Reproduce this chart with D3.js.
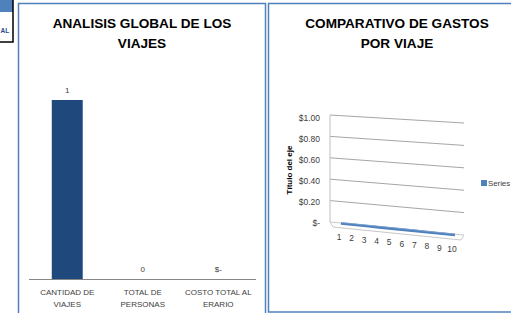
<!DOCTYPE html>
<html>
<head>
<meta charset="utf-8">
<script src="https://cdn.jsdelivr.net/npm/d3@7"></script>
<style>
  html, body { margin: 0; padding: 0; background: #fff; overflow: hidden; }
  svg { display: block; }
</style>
</head>
<body>
<svg id="chart" width="511" height="313"></svg>
<script>
// ---- Data: chart 1 ----
const barCategories = [["CANTIDAD DE", "VIAJES"], ["TOTAL DE", "PERSONAS"], ["COSTO TOTAL AL", "ERARIO"]];
const barValues = [1, 0, 0];
const barLabels = ["1", "0", "$-"];

// ---- Data: chart 2 ----
const lineCategories = [1, 2, 3, 4, 5, 6, 7, 8, 9, 10];
const lineValues = [0, 0, 0, 0, 0, 0, 0, 0, 0, 0];
const yTicks = [0, 0.2, 0.4, 0.6, 0.8, 1.0];
const yTickLabels = ["$-", "$0.20", "$0.40", "$0.60", "$0.80", "$1.00"];
const seriesName = "Series";

const svg = d3.select("#chart");
const FONT = "'Liberation Sans', Arial, sans-serif";

// ---- Left clipped table fragment ----
svg.append("rect").attr("x", -2).attr("y", -2).attr("width", 15).attr("height", 14).attr("fill", "#4f81bd");
svg.append("path").attr("d", "M13,0 V42 H-2").attr("fill", "none").attr("stroke", "#000").attr("stroke-width", 1.5);
svg.append("text").attr("x", 0.5).attr("y", 33)
  .attr("font-family", FONT).attr("font-size", 6.5).attr("font-weight", "bold").attr("fill", "#1f4e8c").text("AL");

// ---- Panel borders ----
svg.append("rect").attr("x", 18.5).attr("y", 3.5).attr("width", 247).attr("height", 330)
  .attr("fill", "#fff").attr("stroke", "#4f81bd").attr("stroke-width", 1.5);
svg.append("rect").attr("x", 268.5).attr("y", 3.5).attr("width", 260).attr("height", 308.5)
  .attr("fill", "#fff").attr("stroke", "#4f81bd").attr("stroke-width", 1.5);

// ---- Chart 1: bar chart ----
const g1 = svg.append("g");
g1.append("text").attr("text-anchor", "middle")
  .attr("font-family", FONT).attr("font-size", 13.6).attr("font-weight", "bold").attr("fill", "#000")
  .selectAll("tspan").data(["ANALISIS GLOBAL DE LOS", "VIAJES"]).join("tspan")
  .attr("x", 142).attr("y", (d, i) => 28 + i * 20).text(d => d);

const x1 = d3.scaleBand().domain(d3.range(barValues.length)).range([29.5, 256]).paddingInner(0.59).paddingOuter(0.295);
const y1 = d3.scaleLinear().domain([0, 1]).range([279, 100]);

g1.selectAll("rect.bar").data(barValues).join("rect").attr("class", "bar")
  .attr("x", (d, i) => x1(i)).attr("width", x1.bandwidth())
  .attr("y", d => y1(d)).attr("height", d => y1(0) - y1(d)).attr("fill", "#1f497d");

g1.append("line").attr("x1", 29).attr("x2", 256).attr("y1", y1(0) + 0.5).attr("y2", y1(0) + 0.5)
  .attr("stroke", "#868686").attr("stroke-width", 1);

g1.selectAll("text.vlab").data(barValues).join("text").attr("class", "vlab")
  .attr("x", (d, i) => x1(i) + x1.bandwidth() / 2).attr("y", d => y1(d) - 7)
  .attr("text-anchor", "middle").attr("font-family", FONT).attr("font-size", 8).attr("fill", "#404040")
  .text((d, i) => barLabels[i]);

g1.selectAll("text.clab").data(barCategories).join("text").attr("class", "clab")
  .attr("text-anchor", "middle").attr("font-family", FONT).attr("font-size", 8).attr("fill", "#404040")
  .each(function (d, i) {
    const cx = x1(i) + x1.bandwidth() / 2;
    d3.select(this).selectAll("tspan").data(d).join("tspan")
      .attr("x", cx).attr("y", (t, j) => 295 + j * 12).text(t => t);
  });

// ---- Chart 2: 3D line chart ----
const g2 = svg.append("g");
g2.append("text").attr("text-anchor", "middle")
  .attr("font-family", FONT).attr("font-size", 13.6).attr("font-weight", "bold").attr("fill", "#000")
  .selectAll("tspan").data(["COMPARATIVO DE GASTOS", "POR VIAJE"]).join("tspan")
  .attr("x", 397).attr("y", (d, i) => 28 + i * 20).text(d => d);

const wallLeftX = 330, wallRightX = 464;
const yBackLeft = d3.scaleLinear().domain([0, 1]).range([222, 115]);
const yBackRight = d3.scaleLinear().domain([0, 1]).range([235, 123]);
const yLabel = d3.scaleLinear().domain([0, 1]).range([225.5, 120.5]);

// floor
const floorPts = [[wallLeftX, yBackLeft(0)], [wallRightX, yBackRight(0)], [461, 240], [333, 227]];
g2.append("path").attr("d", "M" + floorPts.map(p => p.join(",")).join("L") + "Z")
  .attr("fill", "#fff").attr("stroke", "#c8c8c8").attr("stroke-width", 1);

// gridlines
g2.selectAll("line.grid").data(yTicks.filter(t => t > 0)).join("line").attr("class", "grid")
  .attr("x1", wallLeftX).attr("x2", wallRightX)
  .attr("y1", d => yBackLeft(d)).attr("y2", d => yBackRight(d))
  .attr("stroke", "#a6a6a6").attr("stroke-width", 1);

// wall edge
g2.append("line").attr("x1", wallLeftX).attr("x2", wallLeftX)
  .attr("y1", yBackLeft(1)).attr("y2", yBackLeft(0))
  .attr("stroke", "#c0c0c0").attr("stroke-width", 1);

// tick labels
g2.selectAll("text.ytick").data(yTicks).join("text").attr("class", "ytick")
  .attr("x", 320).attr("y", d => yLabel(d)).attr("text-anchor", "end")
  .attr("font-family", FONT).attr("font-size", 8.5).attr("fill", "#404040")
  .text((d, i) => yTickLabels[i]);

// axis title
g2.append("text").attr("transform", "translate(292,170) rotate(-90)").attr("text-anchor", "middle")
  .attr("font-family", FONT).attr("font-size", 8).attr("font-weight", "bold").attr("fill", "#000")
  .text("Título del eje");

// series ribbon
const xSer = d3.scalePoint().domain(lineCategories).range([341, 455]);
const ySerBase = d3.scalePoint().domain(lineCategories).range([223.5, 235]);
const vScale = d3.scaleLinear().domain([0, 1]).range([0, -107]);
const line = d3.line().x((d, i) => xSer(lineCategories[i])).y((d, i) => ySerBase(lineCategories[i]) + vScale(d));
g2.append("path").datum(lineValues).attr("d", line)
  .attr("fill", "none").attr("stroke", "#4f81bd").attr("stroke-width", 2.6).attr("stroke-linecap", "butt");
g2.append("path").datum(lineValues).attr("d", line).attr("transform", "translate(0,-1)")
  .attr("fill", "none").attr("stroke", "#7fa3d3").attr("stroke-width", 0.8);

// x labels
const xLab = d3.scalePoint().domain(lineCategories).range([339, 452]);
const yLab = d3.scalePoint().domain(lineCategories).range([240, 252]);
g2.selectAll("text.xlab").data(lineCategories).join("text").attr("class", "xlab")
  .attr("x", d => xLab(d)).attr("y", d => yLab(d)).attr("text-anchor", "middle")
  .attr("font-family", FONT).attr("font-size", 8.5).attr("fill", "#404040").text(d => d);

// legend
g2.append("rect").attr("x", 481).attr("y", 180).attr("width", 6).attr("height", 6).attr("fill", "#4f81bd");
g2.append("text").attr("x", 488).attr("y", 186).attr("font-family", FONT).attr("font-size", 7.8)
  .attr("fill", "#404040").text(seriesName);
</script>
</body>
</html>
